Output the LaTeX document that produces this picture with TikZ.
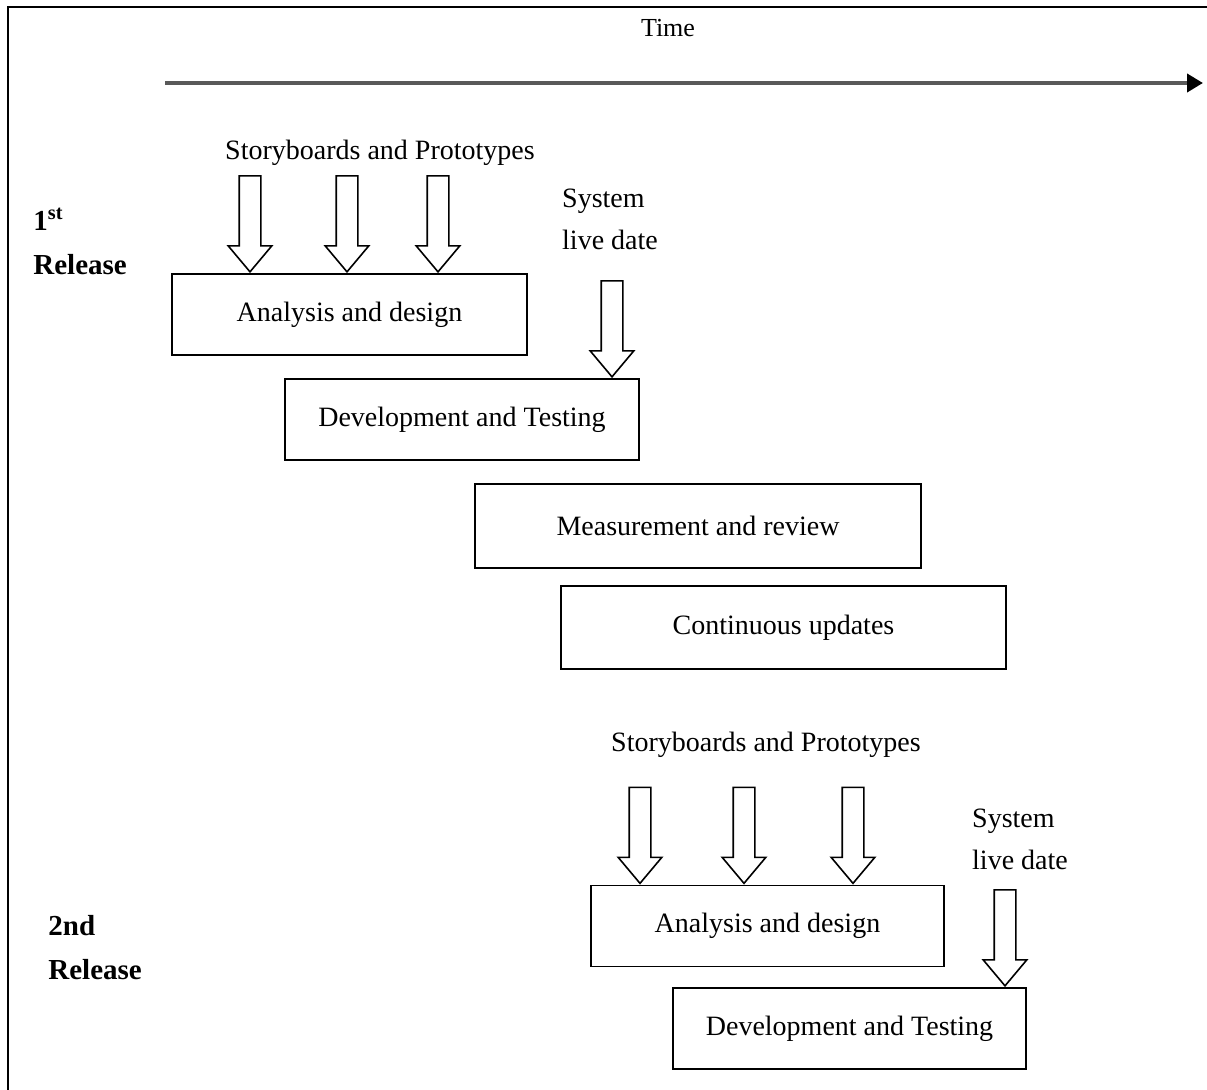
\documentclass[tikz,border=0pt]{standalone}
\usepackage{fontspec}
\setmainfont{Liberation Serif}
\usetikzlibrary{positioning,arrows.meta,shapes.arrows}

\begin{document}
\begin{tikzpicture}[
    x=0.5pt, y=-0.5pt,
    every node/.style={font=\fontsize{14}{21}\selectfont},
    block/.style={draw, line width=0.9pt, minimum height=40.5pt, inner sep=0pt},
    inarrow/.style={draw, line width=0.8pt, single arrow, rotate=-90, anchor=tip, inner xsep=0pt, inner ysep=5pt,
        minimum height=48pt, minimum width=21pt, single arrow head extend=5.5pt, single arrow tip angle=80},
    note/.style={align=left, inner sep=0pt},
    release/.style={align=left, inner sep=0pt, anchor=north west, font=\fontsize{14.5}{22}\selectfont\bfseries},
    timeline/.style={line width=2pt, black!65, -{Triangle[length=8pt, width=9pt, color=black]}}
]
\useasboundingbox (0,0) rectangle (1207,1090);
\draw[line width=1pt] (8,1090) -- (8,7) -- (1207,7);

\node[font=\fontsize{13}{15}\selectfont] (time) at (668,28) {Time};
\coordinate (tstart) at (165,83);
\coordinate (tend) at (1203,83);
\draw[timeline] (tstart) -- (tend);

\node[release] (rel1) at (33,208) {1\textsuperscript{st}\\Release};
\node[release] (rel2) at (48,915) {2nd\\Release};

\node[block, minimum width=177.5pt] (ad1) at (349.5,314.5) {Analysis and design};
\node[block, minimum width=177pt] (dt1) at (462,419.5) {Development and Testing};
\node[block, minimum width=223pt, minimum height=42pt] (mr) at (698,526) {Measurement and review};
\node[block, minimum width=222.5pt, minimum height=41.5pt] (cu) at (783.5,627.5) {Continuous updates};
\node[block, minimum width=176.5pt] (ad2) at (767.5,926) {Analysis and design};
\node[block, minimum width=176.5pt] (dt2) at (849.5,1028.5) {Development and Testing};

\node (story1) at (380,153) {Storyboards and Prototypes};
\foreach \x/\n in {250/a,347/b,438/c}
    \node[inarrow] (sb1\n) at (\x,0 |- ad1.north) {};
\node[note] (sys1) at (610,219) {System\\live date};
\node[inarrow] (live1) at (612,0 |- dt1.north) {};

\node (story2) at (766,745) {Storyboards and Prototypes};
\foreach \x/\n in {640/a,744/b,853/c}
    \node[inarrow] (sb2\n) at (\x,0 |- ad2.north) {};
\node[note] (sys2) at (1020,839) {System\\live date};
\node[inarrow] (live2) at (1005,0 |- dt2.north) {};
\end{tikzpicture}
\end{document}
